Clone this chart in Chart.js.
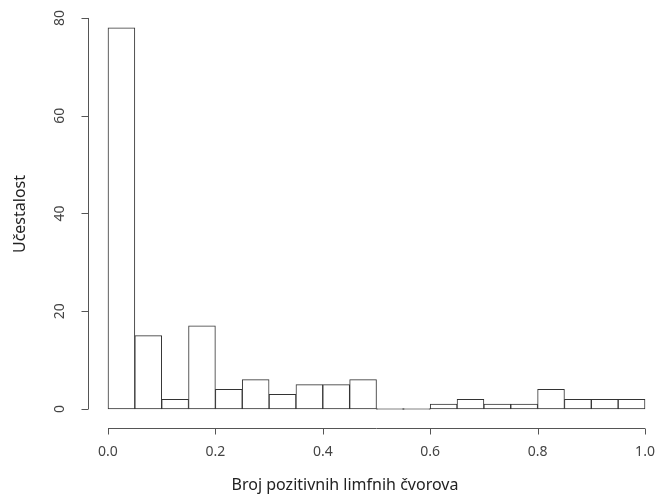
<!DOCTYPE html>
<html>
<head>
<meta charset="utf-8">
<script src="https://cdn.jsdelivr.net/npm/chart.js@4/dist/chart.umd.min.js"></script>
<style>
  html, body { margin: 0; padding: 0; background: #fff; }
  #histChart { display: block; }
</style>
</head>
<body>
<canvas id="histChart" width="658" height="496"></canvas>
<script>
// --- DATA ---
const binStarts = [0.00, 0.05, 0.10, 0.15, 0.20, 0.25, 0.30, 0.35, 0.40, 0.45,
                   0.50, 0.55, 0.60, 0.65, 0.70, 0.75, 0.80, 0.85, 0.90, 0.95];
const binWidth = 0.05;
const counts = [78, 15, 2, 17, 4, 6, 3, 5, 5, 6,
                0, 0, 1, 2, 1, 1, 4, 2, 2, 2];
const xTicks = [0.0, 0.2, 0.4, 0.6, 0.8, 1.0];
const xTickLabels = ['0.0', '0.2', '0.4', '0.6', '0.8', '1.0'];
const yTicks = [0, 20, 40, 60, 80];
const yTickLabels = ['0', '20', '40', '60', '80'];

const xTitle = 'Broj pozitivnih limfnih čvorova';
const yTitle = 'Učestalost';

const FONT = "'Noto Sans', 'DejaVu Sans', sans-serif";
const TEXT_COLOR = '#444';
const TITLE_COLOR = '#222';
const AXIS_COLOR = '#555';

// R-style axes: line only from first to last tick, ticks pointing outwards
const rAxes = {
    id: 'rAxes',
    afterDraw(chart) {
        const ctx = chart.ctx;
        const x = chart.scales.x;
        const y = chart.scales.y;
        const area = chart.chartArea;
        ctx.save();
        ctx.strokeStyle = AXIS_COLOR;
        ctx.lineWidth = 1;

        // x axis
        const ax = Math.round(area.bottom + 2) + 0.5;
        ctx.beginPath();
        ctx.moveTo(x.getPixelForValue(xTicks[0]), ax);
        ctx.lineTo(x.getPixelForValue(xTicks[xTicks.length - 1]), ax);
        xTicks.forEach(v => {
            const px = Math.round(x.getPixelForValue(v)) + 0.5;
            ctx.moveTo(px, ax);
            ctx.lineTo(px, ax + 6);
        });
        ctx.stroke();

        // y axis
        const ay = Math.round(area.left + 1) + 0.5;
        ctx.beginPath();
        ctx.moveTo(ay, y.getPixelForValue(yTicks[0]));
        ctx.lineTo(ay, y.getPixelForValue(yTicks[yTicks.length - 1]));
        yTicks.forEach(v => {
            const py = Math.round(y.getPixelForValue(v)) + 0.5;
            ctx.moveTo(ay, py);
            ctx.lineTo(ay - 7, py);
        });
        ctx.stroke();

        // y tick labels, rotated like R
        ctx.fillStyle = TEXT_COLOR;
        ctx.font = '14px ' + FONT;
        ctx.textAlign = 'center';
        ctx.textBaseline = 'middle';
        yTicks.forEach((v, i) => {
            ctx.save();
            ctx.translate(60, y.getPixelForValue(v));
            ctx.rotate(-Math.PI / 2);
            ctx.fillText(yTickLabels[i], 0, 0);
            ctx.restore();
        });

        // x title, centred like the original (not on the chart area)
        ctx.fillStyle = TITLE_COLOR;
        ctx.font = '16px ' + FONT;
        ctx.fillText(xTitle, 345, 485);
        ctx.restore();
    }
};

function initChart() {
    const ctx = document.getElementById('histChart');
    new Chart(ctx.getContext('2d'), {
        type: 'bar',
        data: {
            datasets: [{
                data: binStarts.map((s, i) => ({ x: s + binWidth / 2, y: counts[i] })),
                backgroundColor: '#ffffff',
                borderColor: '#333333',
                borderWidth: 1,
                borderSkipped: false,
                minBarLength: 1,
                barPercentage: 1,
                categoryPercentage: 1
            }]
        },
        options: {
            responsive: false,
            animation: false,
            layout: { padding: { top: 2, right: 0, left: 0, bottom: 0 } },
            plugins: {
                legend: { display: false },
                tooltip: { enabled: false }
            },
            scales: {
                x: {
                    type: 'linear',
                    offset: false,
                    min: -0.0391,
                    max: 1.0242,
                    grid: { display: false, drawTicks: false },
                    border: { display: false },
                    afterBuildTicks: (scale) => { scale.ticks = xTicks.map(v => ({ value: v })); },
                    afterFit: (scale) => {
                        scale.height = 70;
                        scale.paddingLeft = 0;
                        scale.paddingRight = 0;
                    },
                    ticks: {
                        padding: 18,
                        maxRotation: 0,
                        color: TEXT_COLOR,
                        font: { family: FONT, size: 14 },
                        callback: (value, index) => xTickLabels[index]
                    },
                    title: { display: false }
                },
                y: {
                    min: -3.478,
                    max: 83.27,
                    grid: { display: false, drawTicks: false },
                    border: { display: false },
                    afterBuildTicks: (scale) => { scale.ticks = yTicks.map(v => ({ value: v })); },
                    afterFit: (scale) => {
                        scale.width = 87;
                        scale.paddingTop = 0;
                        scale.paddingBottom = 0;
                    },
                    ticks: { display: false },
                    title: {
                        display: true,
                        text: yTitle,
                        color: TITLE_COLOR,
                        font: { family: FONT, size: 16 },
                        padding: { top: 11, bottom: 0 }
                    }
                }
            }
        },
        plugins: [rAxes]
    });
}

document.addEventListener('DOMContentLoaded', initChart);
</script>
</body>
</html>
